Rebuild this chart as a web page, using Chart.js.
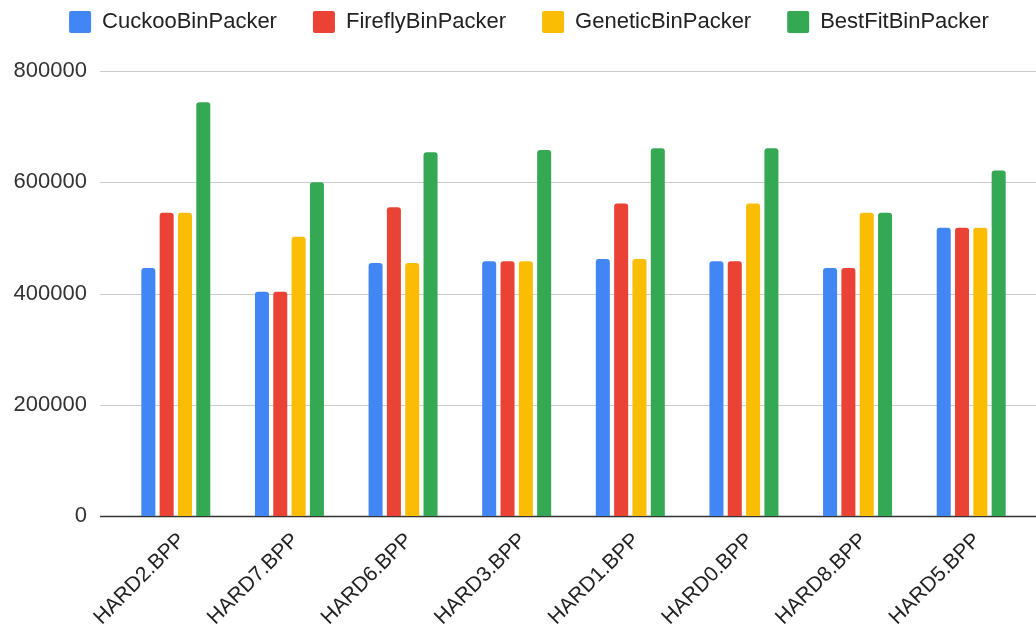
<!DOCTYPE html>
<html>
<head>
<meta charset="utf-8">
<script src="https://cdn.jsdelivr.net/npm/chart.js@4/dist/chart.umd.min.js"></script>
<style>
  html, body { margin: 0; padding: 0; background: #fff; }
  #wrap { width: 1036px; height: 630px; }
</style>
</head>
<body>
<div id="wrap"><canvas id="bins"></canvas></div>
<script>
var categories = ["HARD2.BPP", "HARD7.BPP", "HARD6.BPP", "HARD3.BPP", "HARD1.BPP", "HARD0.BPP", "HARD8.BPP", "HARD5.BPP"];
var cuckoo  = [446000, 403000, 455000, 458000, 462000, 458000, 446000, 518000];
var firefly = [545000, 403000, 555000, 458000, 562000, 458000, 446000, 518000];
var genetic = [545000, 502000, 455000, 458000, 462000, 562000, 545000, 518000];
var bestfit = [744000, 600000, 654000, 658000, 661000, 661000, 545000, 621000];
var yTicks = [0, 200000, 400000, 600000, 800000];

var font = "'Liberation Sans', Arial, sans-serif";

// gridlines run from the label edge to the right border, like the original
var longGrid = {
    id: 'longGrid',
    beforeDatasetsDraw: function(chart) {
        var ctx = chart.ctx;
        var y = chart.scales.y;
        ctx.save();
        yTicks.forEach(function(v) {
            var py = Math.round(y.getPixelForValue(v)) + 0.5;
            ctx.beginPath();
            ctx.strokeStyle = v === 0 ? '#333333' : '#cccccc';
            ctx.lineWidth = v === 0 ? 1.5 : 1;
            ctx.moveTo(100, py);
            ctx.lineTo(chart.width, py);
            ctx.stroke();
        });
        ctx.restore();
    }
};

// legend box is taller than the default and sits a bit right of centre
var legendBox = {
    id: 'legendBox',
    beforeInit: function(chart) {
        var fit = chart.legend.fit;
        chart.legend.fit = function() {
            fit.call(this);
            this.height = 96;
        };
    },
    afterLayout: function(chart) {
        chart.legend.left += 15;
        chart.legend.right += 15;
    }
};

function bar(label, data, color) {
    return {
        label: label,
        data: data,
        backgroundColor: color,
        borderRadius: {topLeft: 3, topRight: 3},
        borderSkipped: 'start',
        categoryPercentage: 0.645,
        barPercentage: 0.765
    };
}

new Chart('bins', {
    type: 'bar',
    data: {
        labels: categories,
        datasets: [
            bar("CuckooBinPacker", cuckoo, "#4285F4"),
            bar("FireflyBinPacker", firefly, "#EA4335"),
            bar("GeneticBinPacker", genetic, "#FBBC04"),
            bar("BestFitBinPacker", bestfit, "#34A853")
        ]
    },
    plugins: [longGrid, legendBox],
    options: {
        responsive: true,
        maintainAspectRatio: false,
        animation: false,
        layout: {padding: {top: -25, right: 8, left: 0, bottom: 0}},
        plugins: {
            legend: {
                position: 'top',
                labels: {
                    boxWidth: 22,
                    boxHeight: 22,
                    useBorderRadius: true,
                    borderRadius: 2,
                    padding: 36,
                    color: '#222222',
                    font: {family: font, size: 22}
                }
            },
            tooltip: {enabled: false}
        },
        scales: {
            x: {
                grid: {display: false, drawTicks: false},
                border: {display: false},
                ticks: {
                    minRotation: 45,
                    maxRotation: 45,
                    padding: 12,
                    labelOffset: 6,
                    color: '#222222',
                    font: {family: font, size: 21}
                },
                afterFit: function(s) { s.height = 114; }
            },
            y: {
                min: 0,
                max: 800000,
                grid: {display: false, drawTicks: false},
                border: {display: false},
                afterBuildTicks: function(s) {
                    s.ticks = yTicks.map(function(v) { return {value: v}; });
                },
                ticks: {
                    padding: 32,
                    color: '#333333',
                    font: {family: font, size: 22},
                    callback: function(v) { return String(v); }
                },
                afterFit: function(s) { s.width = 119; }
            }
        }
    }
});
</script>
</body>
</html>
